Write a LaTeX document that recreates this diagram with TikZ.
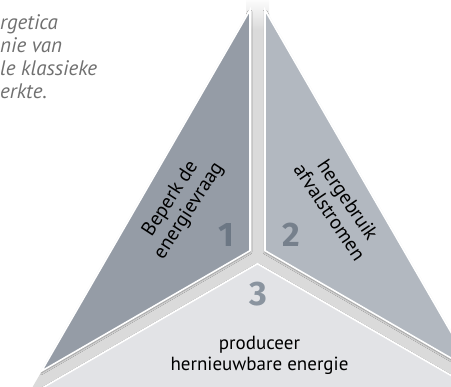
\documentclass[tikz,border=0pt]{standalone}
\usepackage{fontspec}
\setmainfont{PT Sans}
\newfontfamily\cijferfont{Fira Sans}
\usetikzlibrary{shadows.blur}
\definecolor{vlakEen}{HTML}{959CA6}
\definecolor{vlakTwee}{HTML}{B2B8C0}
\definecolor{vlakDrie}{HTML}{E2E3E6}
\definecolor{geul}{HTML}{DADADA}
\definecolor{cijferEen}{HTML}{6C7784}
\definecolor{cijferTwee}{HTML}{76808C}
\definecolor{cijferDrie}{HTML}{8A949F}
\definecolor{introgrijs}{HTML}{707070}
\tikzset{%
	vlak/.style   = {draw=white, line width=1.6pt, blur shadow={shadow blur steps=8, shadow xshift=0pt, shadow yshift=-1.5pt, shadow opacity=35}},
	tekst/.style  = {align=center, inner sep=0pt, font=\fontsize{20}{22}\selectfont},
	cijfer/.style = {inner sep=0pt, font=\cijferfont\bfseries\fontsize{34}{34}\selectfont},
	intro/.style  = {align=left, inner sep=0pt, text=introgrijs, font=\itshape\fontsize{21}{23}\selectfont},
}

\begin{document}
\begin{tikzpicture}[x=1pt,y=-1pt]
		\useasboundingbox (0,0) rectangle (451,387);
		\clip (0,0) rectangle (451,387);
		% achtergrond van de driehoek (geulen)
		\fill[geul] (257.5,-3) -- (28,395) -- (487,395) -- cycle;
		\shade[top color=white, bottom color=geul] (246,-3) rectangle (269,30);
		% de drie vlakken
		\draw[vlak, fill=vlakEen] (250,10) -- (250,250.7) -- (41.5,371.1) -- cycle;
		\draw[vlak, fill=vlakTwee] (265,10) -- (265,250.7) -- (473.5,371.1) -- cycle;
		\draw[vlak, fill=vlakDrie] (257.5,263.7) -- (30,395) -- (485,395) -- cycle;
		
		\node[tekst, rotate=57] (beperk) at (180,205) {Beperk de\\energievraag};
		\node[tekst, rotate=-56] (hergebruik) at (339,206) {hergebruik\\afvalstromen};
		\node[tekst, font=\fontsize{19}{21}\selectfont] (produceer) at (259.5,355) {produceer\\hernieuwbare energie};
		
		\node[cijfer, text=cijferEen] (een) at (226,235) {1};
		\node[cijfer, text=cijferTwee] (twee) at (291,235) {2};
		\node[cijfer, text=cijferDrie] (drie) at (258,294) {3};
		
		\node[intro, anchor=north west] (inleiding) at (0,14) {rgetica\\nie van\\le klassieke\\erkte.};
\end{tikzpicture}
\end{document}
